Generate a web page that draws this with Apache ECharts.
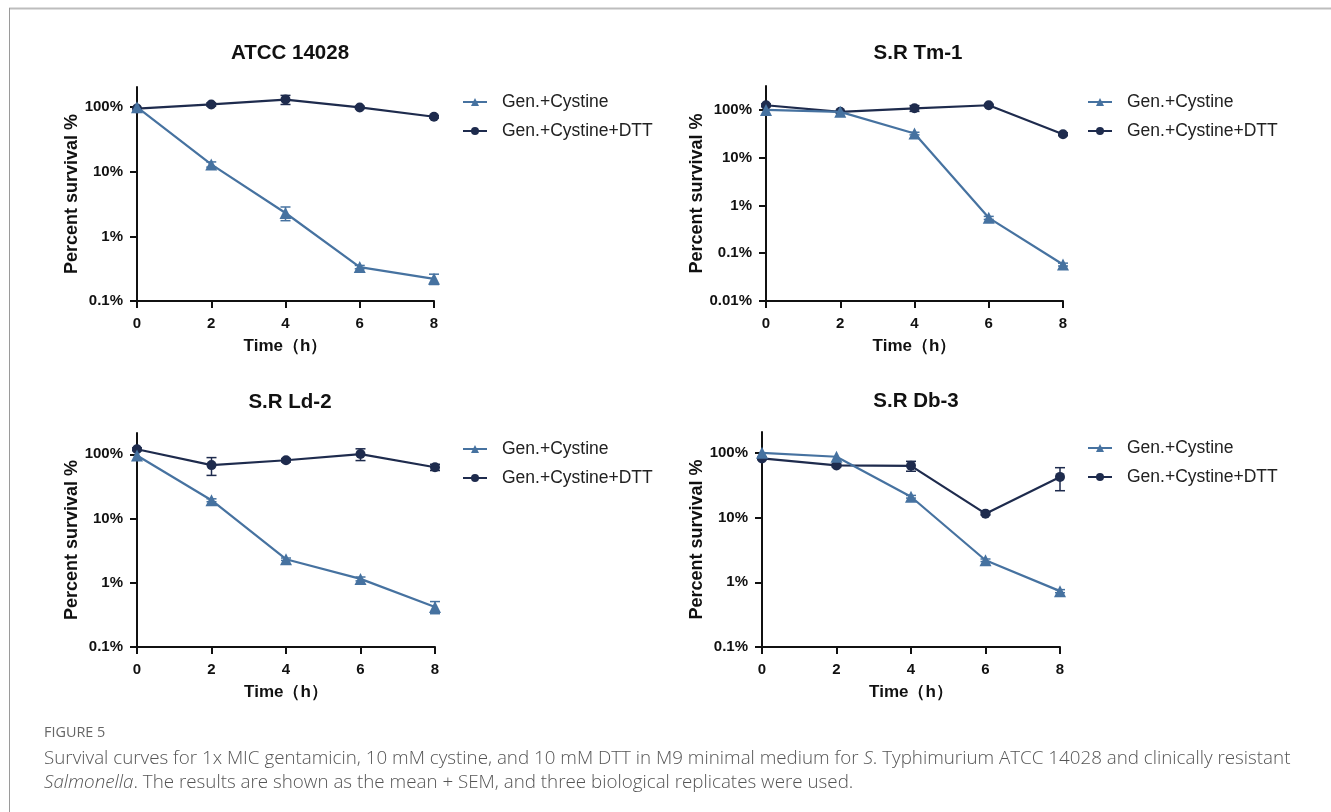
<!DOCTYPE html>
<html lang="en">
  <head>
    <meta charset="UTF-8" />
    <title>Figure 5</title>
    <script src="https://cdn.jsdelivr.net/npm/echarts@6/dist/echarts.min.js"></script>
    <style>
      html, body { margin: 0; padding: 0; background: #fff; }
      #chart { width: 1331px; height: 812px; }
    </style>
  </head>
  <body>
    <div id="chart"></div>
    <script>
      // time points (h)
      var hours = [0, 2, 4, 6, 8];
      var panelTitles = ["ATCC 14028", "S.R Tm-1", "S.R Ld-2", "S.R Db-3"];
      var seriesNames = ["Gen.+Cystine", "Gen.+Cystine+DTT"];

      // percent survival
      var atccCys = [100, 13, 2.3, 0.335, 0.22];
      var atccCysSem = [0, 1.2, 0.55, 0.02, 0.04];
      var atccDtt = [95, 110, 131, 99, 71];
      var atccDttSem = [0, 6, 21, 4, 3];

      var tmCys = [100, 91, 32, 0.55, 0.058];
      var tmCysSem = [0, 0, 2, 0.04, 0.004];
      var tmDtt = [125, 91, 108, 125, 31];
      var tmDttSem = [8, 0, 15, 5, 2];

      var ldCys = [96, 19.3, 2.33, 1.15, 0.42];
      var ldCysSem = [0, 1, 0.1, 0.08, 0.09];
      var ldDtt = [120, 68, 81, 101, 63];
      var ldDttSem = [6, 21, 5, 21, 7];

      var dbCys = [100, 87, 21, 2.19, 0.73];
      var dbCysSem = [0, 0, 1, 0.1, 0.04];
      var dbDtt = [82, 64, 63, 11.5, 42.5];
      var dbDttSem = [3, 3, 11, 0.5, 16.5];

      var yTicks = [
        [0.1, 1, 10, 100],
        [0.01, 0.1, 1, 10, 100],
        [0.1, 1, 10, 100],
        [0.1, 1, 10, 100]
      ];
      var yMins = [0.1, 0.01, 0.1, 0.1];
      var yMaxs = [205, 316, 215, 210];

      var panels = [
        { cys: atccCys, cysSem: atccCysSem, dtt: atccDtt, dttSem: atccDttSem },
        { cys: tmCys, cysSem: tmCysSem, dtt: tmDtt, dttSem: tmDttSem },
        { cys: ldCys, cysSem: ldCysSem, dtt: ldDtt, dttSem: ldDttSem },
        { cys: dbCys, cysSem: dbCysSem, dtt: dbDtt, dttSem: dbDttSem }
      ];

      var cysColor = "#4672a0";
      var dttColor = "#1e2b4d";
      var font = "Liberation Sans, Arial, sans-serif";

      // layout of the four panels (px)
      var boxes = [
        { left: 137, top: 87, width: 297, height: 214, title: [285, 38], legend: [462, 93], nameGap: 56 },
        { left: 766, top: 86, width: 297, height: 215, title: [913, 38], legend: [1087, 93], nameGap: 60 },
        { left: 137, top: 433, width: 298, height: 214, title: [285, 387], legend: [462, 440], nameGap: 56 },
        { left: 762, top: 432, width: 298, height: 215, title: [911, 386], legend: [1087, 439], nameGap: 56 }
      ];

      function pctLabel(v) {
        return v + "%";
      }

      function errData(mean, sem) {
        var out = [];
        for (var i = 0; i < hours.length; i++) {
          if (sem[i] > 0) out.push([hours[i], mean[i] - sem[i], mean[i] + sem[i]]);
        }
        return out;
      }

      function renderErr(params, api) {
        var top = api.coord([api.value(0), api.value(2)]);
        var bot = api.coord([api.value(0), api.value(1)]);
        var color = api.visual("color");
        var half = 5;
        var st = { stroke: color, lineWidth: 1.5 };
        return {
          type: "group",
          children: [
            { type: "line", shape: { x1: top[0], y1: top[1], x2: bot[0], y2: bot[1] }, style: st },
            { type: "line", shape: { x1: top[0] - half, y1: top[1], x2: top[0] + half, y2: top[1] }, style: st },
            { type: "line", shape: { x1: bot[0] - half, y1: bot[1], x2: bot[0] + half, y2: bot[1] }, style: st }
          ]
        };
      }

      var titles = [], legends = [], grids = [], xAxes = [], yAxes = [], series = [];

      panels.forEach(function (p, i) {
        var b = boxes[i];
        titles.push({
          text: panelTitles[i],
          left: b.title[0],
          top: b.title[1],
          textAlign: "center",
          textStyle: { fontFamily: font, fontWeight: "bold", fontSize: 20.5, color: "#111" }
        });
        legends.push({
          data: seriesNames,
          orient: "vertical",
          left: b.legend[0],
          top: b.legend[1],
          padding: 0,
          itemWidth: 24,
          itemHeight: 10,
          itemGap: 11,
          textStyle: { fontFamily: font, fontSize: 17.5, color: "#222", padding: [0, 0, 0, 10] }
        });
        grids.push({ left: b.left, top: b.top, width: b.width, height: b.height });
        xAxes.push({
          type: "value",
          gridIndex: i,
          min: 0,
          max: 8,
          interval: 2,
          name: "Time（h）",
          nameLocation: "middle",
          nameGap: 37,
          nameTextStyle: { fontFamily: font, fontWeight: "bold", fontSize: 17, color: "#111" },
          axisLine: { lineStyle: { color: "#111", width: 2 } },
          axisTick: { length: 7, lineStyle: { color: "#111", width: 2 } },
          axisLabel: { fontFamily: font, fontWeight: "bold", fontSize: 15, color: "#111", margin: 15 },
          splitLine: { show: false }
        });
        yAxes.push({
          type: "log",
          gridIndex: i,
          min: yMins[i],
          max: yMaxs[i],
          name: "Percent survival %",
          nameLocation: "middle",
          nameGap: b.nameGap,
          nameRotate: 90,
          nameTextStyle: { fontFamily: font, fontWeight: "bold", fontSize: 18, color: "#111" },
          axisLine: { show: true, lineStyle: { color: "#111", width: 2 } },
          axisTick: { show: true, length: 7, customValues: yTicks[i], lineStyle: { color: "#111", width: 2 } },
          axisLabel: {
            fontFamily: font, fontWeight: "bold", fontSize: 15, color: "#111", margin: 14,
            customValues: yTicks[i],
            formatter: pctLabel
          },
          splitLine: { show: false },
          minorTick: { show: false }
        });

        series.push({
          type: "custom",
          name: "err-cys-" + i,
          xAxisIndex: i,
          yAxisIndex: i,
          renderItem: renderErr,
          itemStyle: { color: cysColor },
          data: errData(p.cys, p.cysSem),
          z: 1,
          silent: true
        });
        series.push({
          type: "custom",
          name: "err-dtt-" + i,
          xAxisIndex: i,
          yAxisIndex: i,
          renderItem: renderErr,
          itemStyle: { color: dttColor },
          data: errData(p.dtt, p.dttSem),
          z: 1,
          silent: true
        });
        series.push({
          type: "line",
          name: seriesNames[1],
          xAxisIndex: i,
          yAxisIndex: i,
          data: hours.map(function (h, k) { return [h, p.dtt[k]]; }),
          symbol: "circle",
          symbolSize: 10,
          color: dttColor,
          lineStyle: { width: 2.2, color: dttColor },
          itemStyle: { color: dttColor },
          z: 3
        });
        series.push({
          type: "line",
          name: seriesNames[0],
          xAxisIndex: i,
          yAxisIndex: i,
          data: hours.map(function (h, k) { return [h, p.cys[k]]; }),
          symbol: "triangle",
          symbolSize: 12,
          color: cysColor,
          lineStyle: { width: 2.2, color: cysColor },
          itemStyle: { color: cysColor },
          z: 4
        });
      });

      var capFont = "'Open Sans', 'Noto Sans', sans-serif";

      var chart = echarts.init(document.getElementById("chart"));
      chart.setOption({
        animation: false,
        backgroundColor: "#fff",
        title: titles,
        legend: legends,
        grid: grids,
        xAxis: xAxes,
        yAxis: yAxes,
        series: series,
        graphic: [
          { type: "line", shape: { x1: 9, y1: 8.5, x2: 1331, y2: 8.5 }, style: { stroke: "#bdbdbd", lineWidth: 2 } },
          { type: "line", shape: { x1: 9.5, y1: 8, x2: 9.5, y2: 812 }, style: { stroke: "#9a9a9a", lineWidth: 1 } },
          {
            type: "text", left: 44, top: 726,
            style: { text: "FIGURE 5", font: "14.4px " + capFont, fill: "#666" }
          },
          {
            type: "text", left: 44, top: 747,
            style: {
              text: "Survival curves for 1x MIC gentamicin, 10 mM cystine, and 10 mM DTT in M9 minimal medium for {i|S}. Typhimurium ATCC 14028 and clinically resistant\n{i|Salmonella}. The results are shown as the mean {u|+} SEM, and three biological replicates were used.",
              font: "300 18.8px " + capFont,
              fill: "#555",
              lineHeight: 23.5,
              rich: {
                i: { fontStyle: "italic", fontFamily: capFont, fontSize: 18.8, fontWeight: 300, fill: "#555" },
                u: { fontFamily: capFont, fontSize: 18.8, fontWeight: 300, fill: "#555", textDecoration: "underline" }
              }
            }
          }
        ]
      });
    </script>
  </body>
</html>
